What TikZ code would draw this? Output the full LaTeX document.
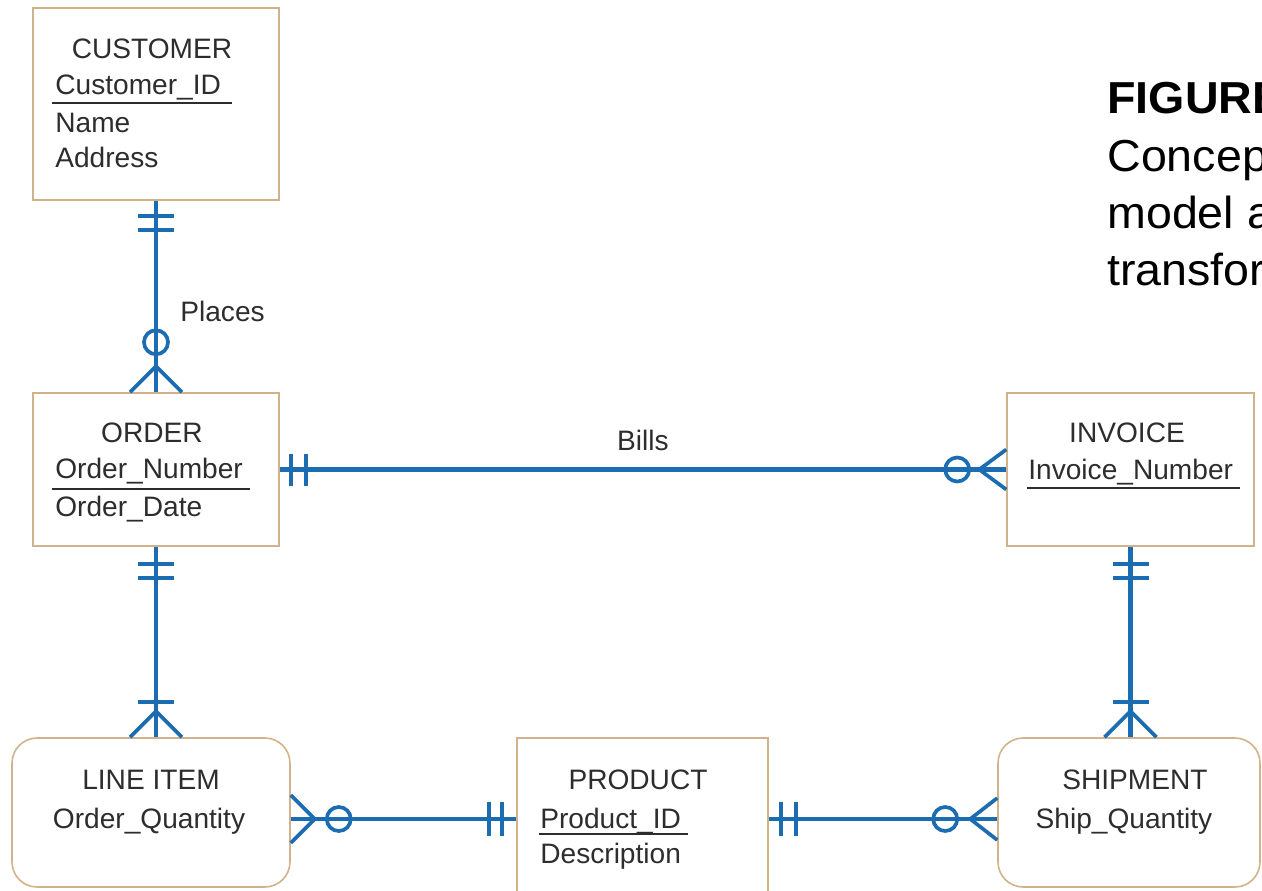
\documentclass[tikz,border=0pt]{standalone}
\usepackage{fontspec}
\setmainfont{Liberation Sans}
\newfontfamily\titlefont[FakeStretch=1.04]{Liberation Sans}
\usepackage{xcolor}
\usepackage{tikz}
\usetikzlibrary{calc}

\definecolor{erblue}{RGB}{28,108,178}
\definecolor{boxtan}{RGB}{210,178,138}
\definecolor{inkgray}{RGB}{45,45,45}

\begin{document}
\begin{tikzpicture}[
        x = 0.02cm, y = -0.02cm,
        entity/.style = {rectangle, draw=boxtan, line width=0.9pt, inner sep=0pt},
        weakentity/.style = {entity, rounded corners=0.5cm},
        label/.style = {inner sep=0pt, text=inkgray, font=\fontsize{16}{19}\selectfont},
        rel/.style = {draw=erblue, line width=2.3pt},
        tick/.style = {draw=erblue, line width=2.1pt},
        caption/.style = {anchor=base west, inner sep=0pt, font=\titlefont\fontsize{25.5}{30}\selectfont},
    ]
    \useasboundingbox (0,0) rectangle (1262,890);
    \clip (0,0) rectangle (1262,890);

    % entities
    \node [entity, minimum width=4.92cm, minimum height=3.84cm] (customer) at (156,104) {};
    \node [entity, minimum width=4.92cm, minimum height=3.06cm] (order) at (156,469.5) {};
    \node [entity, minimum width=4.94cm, minimum height=3.06cm] (invoice) at (1130.5,469.5) {};
    \node [weakentity, minimum width=5.56cm, minimum height=2.98cm] (lineitem) at (151,812.5) {};
    \node [entity, minimum width=5.02cm, minimum height=3.24cm] (product) at (642.5,819) {};
    \node [weakentity, minimum width=5.24cm, minimum height=2.98cm] (shipment) at (1129,812.5) {};

    % entity texts
    \node [label, anchor=base] (customer-name) at (152,58) {CUSTOMER};
    \node [label, anchor=base west] (customer-id) at (55,94) {Customer\_ID};
    \node [label, anchor=base west] (customer-a1) at (55,132) {Name};
    \node [label, anchor=base west] (customer-a2) at (55,167) {Address};
    \draw [inkgray, line width=1pt] (52,103) -- (232,103);

    \node [label, anchor=base] (order-name) at (152,442) {ORDER};
    \node [label, anchor=base west] (order-id) at (55,478) {Order\_Number};
    \node [label, anchor=base west] (order-a1) at (55,516) {Order\_Date};
    \draw [inkgray, line width=1pt] (52,489) -- (250,489);

    \node [label, anchor=base] (invoice-name) at (1127,442) {INVOICE};
    \node [label, anchor=base west] (invoice-id) at (1028,479) {Invoice\_Number};
    \draw [inkgray, line width=1pt] (1027,488) -- (1240,488);

    \node [label, anchor=base] (lineitem-name) at (151,789) {LINE ITEM};
    \node [label, anchor=base] (lineitem-a1) at (149,828) {Order\_Quantity};

    \node [label, anchor=base] (product-name) at (638,789) {PRODUCT};
    \node [label, anchor=base west] (product-id) at (540,828) {Product\_ID};
    \node [label, anchor=base west] (product-a1) at (540,863) {Description};
    \draw [inkgray, line width=1pt] (539,834) -- (688,834);

    \node [label, anchor=base] (shipment-name) at (1135,789) {SHIPMENT};
    \node [label, anchor=base] (shipment-a1) at (1124,828) {Ship\_Quantity};

    % Places
    \draw [rel] (customer.south) -- (order.north);
    \draw [tick] ($(customer.south)+(-18,15)$) -- ++(36,0);
    \draw [tick] ($(customer.south)+(-18,29)$) -- ++(36,0);
    \draw [tick] ($(order.north)+(0,-50)$) circle (12);
    \draw [tick] ($(order.north)+(-26,0)$) -- ($(order.north)+(0,-26)$) -- ($(order.north)+(26,0)$);
    \node [label, anchor=base west] (places) at (180,321) {Places};

    % Bills
    \draw [rel] (order) -- (invoice);
    \draw [tick] ($(order.east)+(11,-16)$) -- ++(0,32);
    \draw [tick] ($(order.east)+(26,-16)$) -- ++(0,32);
    \draw [tick] ($(invoice.west)+(-49,0)$) circle (12);
    \draw [tick] ($(invoice.west)+(0,-20)$) -- ($(invoice.west)+(-27,0)$) -- ($(invoice.west)+(0,20)$);
    \node [label, anchor=base] (bills) at (643,450) {Bills};

    % ORDER - LINE ITEM
    \draw [rel] (order.south) -- (order.south |- lineitem.north);
    \draw [tick] ($(order.south)+(-18,17)$) -- ++(36,0);
    \draw [tick] ($(order.south)+(-18,31)$) -- ++(36,0);
    \draw [tick] ($(order.south |- lineitem.north)+(-18,-35)$) -- ++(36,0);
    \draw [tick] ($(order.south |- lineitem.north)+(-26,0)$) -- ($(order.south |- lineitem.north)+(0,-26)$) -- ($(order.south |- lineitem.north)+(26,0)$);

    % LINE ITEM - PRODUCT
    \draw [rel] (lineitem.east |- product.west) -- (product.west);
    \draw [tick] ($(lineitem.east |- product.west)+(0,-24)$) -- ($(lineitem.east |- product.west)+(24,0)$) -- ($(lineitem.east |- product.west)+(0,24)$);
    \draw [tick] ($(lineitem.east |- product.west)+(48,0)$) circle (12);
    \draw [tick] ($(product.west)+(-27,-17)$) -- ++(0,34);
    \draw [tick] ($(product.west)+(-14,-17)$) -- ++(0,34);

    % PRODUCT - SHIPMENT
    \draw [rel] (product.east) -- (product.east -| shipment.west);
    \draw [tick] ($(product.east)+(12,-17)$) -- ++(0,34);
    \draw [tick] ($(product.east)+(27,-17)$) -- ++(0,34);
    \draw [tick] ($(product.east -| shipment.west)+(-52,0)$) circle (12);
    \draw [tick] ($(product.east -| shipment.west)+(0,-21)$) -- ($(product.east -| shipment.west)+(-27,0)$) -- ($(product.east -| shipment.west)+(0,21)$);

    % INVOICE - SHIPMENT
    \draw [rel] (invoice.south) -- (invoice.south |- shipment.north);
    \draw [tick] ($(invoice.south)+(-18,17)$) -- ++(36,0);
    \draw [tick] ($(invoice.south)+(-18,31)$) -- ++(36,0);
    \draw [tick] ($(invoice.south |- shipment.north)+(-18,-35)$) -- ++(36,0);
    \draw [tick] ($(invoice.south |- shipment.north)+(-26,0)$) -- ($(invoice.south |- shipment.north)+(0,-26)$) -- ($(invoice.south |- shipment.north)+(26,0)$);

    % caption
    \node [caption, font=\titlefont\bfseries\fontsize{25.5}{30}\selectfont] (fig-title) at (1107,113) {FIGURE};
    \node [caption] (fig-line1) at (1107,171) {Concep};
    \node [caption] (fig-line2) at (1107,228) {model a};
    \node [caption] (fig-line3) at (1107,285) {transfor};
\end{tikzpicture}
\end{document}
